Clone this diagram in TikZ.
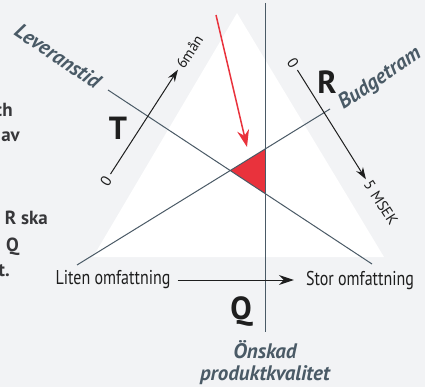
\documentclass[tikz,border=0pt]{standalone}
\usepackage{fontspec}
\setmainfont{PT Sans}
\newfontfamily\condfont[FakeStretch=0.80]{PT Sans}
\definecolor{tqbg}{RGB}{242,243,245}
\definecolor{tqslate}{RGB}{74,90,102}
\definecolor{tqred}{RGB}{233,50,60}
\definecolor{tqdark}{RGB}{30,30,30}
\definecolor{tqtext}{RGB}{55,55,58}
\usetikzlibrary{arrows.meta,positioning,calc}

\begin{document}
\begin{tikzpicture}[x=1pt, y=-1pt,
  axline/.style={tqslate, line width=1pt},
  axarrow/.style={-{Stealth[length=12pt,width=8pt]}, tqdark, line width=1pt},
  numlbl/.style={font=\fontsize{15}{15}\selectfont, inner sep=1pt, tqdark},
  bigletter/.style={font=\fontsize{32}{32}\selectfont\bfseries, tqdark},
  axname/.style={font=\fontsize{21}{21}\selectfont\bfseries\itshape, tqslate},
  sidetext/.style={font=\fontsize{19}{19}\selectfont\bfseries, tqtext, anchor=east, inner sep=0pt}]
% Background and white triangle
\fill[tqbg] (0,0) rectangle (425,387);
\useasboundingbox (0,0) rectangle (425,387);
\fill[white] (237,13) -- (384,257) -- (93,257) -- cycle;
% Line end points
\coordinate (levA) at (108,90);
\coordinate (levB) at (372,264);
\coordinate (budA) at (77,265);
\coordinate (budB) at (330,109);
\coordinate (qTop) at (265,3);
\coordinate (qBot) at (265,332);
% Red triangle
\fill[tqred] (intersection of levA--levB and budA--budB)
  -- (intersection of budA--budB and qTop--qBot)
  -- (intersection of levA--levB and qTop--qBot) -- cycle;
\draw[axline] (levA) -- (levB);
\draw[axline] (budA) -- (budB);
\draw[axline] (qTop) -- (qBot);
% Red arrow
\coordinate (redA) at (216,15);
\coordinate (redB) at (247,147);
\draw[-{Stealth[length=17pt,width=12pt]}, tqred, line width=1.5pt] (redA) -- (redB);
% T axis
\node[numlbl, rotate=57] (tZero) at (106,181) {0};
\node[numlbl, rotate=57, anchor=west] (tMax) at (179,68) {6mån};
\draw[axarrow, shorten <=3pt, shorten >=2pt] (tZero) -- (tMax.west);
\node[bigletter] (tLetter) at (118,128) {T};
\node[axname, rotate=-34] (tName) at (58,56) {Leveranstid};
% R axis
\node[numlbl, rotate=-57] (rZero) at (293,63) {0};
\node[numlbl, rotate=-57, anchor=west] (rMax) at (367,181) {5 MSEK};
\draw[axarrow, shorten <=3pt, shorten >=2pt] (rZero) -- (rMax.west);
\node[bigletter] (rLetter) at (327,82) {R};
\node[axname, rotate=34] (rName) at (380,79) {Budgetram};
% Scope axis
\node[font=\fontsize{20}{20}\selectfont\condfont, tqdark, inner sep=0pt] (small) at (113,280) {Liten omfattning};
\node[font=\fontsize{20}{20}\selectfont\condfont, tqdark, inner sep=0pt] (large) at (360,280) {Stor omfattning};
\draw[-{Stealth[length=15pt,width=10pt]}, tqdark, line width=1pt, shorten <=7pt, shorten >=12pt] (small) -- (large);
% Q axis
\node[bigletter] (qLetter) at (241,312) {Q};
\node[axname] (qName1) at (265,350) {Önskad};
\node[axname] (qName2) at (265,375) {produktkvalitet};
% Cut-off side text
\node[sidetext] (side1) at (13,110) {ch};
\node[sidetext] (side2) at (20,137) {av};
\node[sidetext] (side3) at (48,218) {R ska};
\node[sidetext] (side4) at (19,247) {Q};
\node[sidetext] (side5) at (10,271) {t.};
\end{tikzpicture}
\end{document}
